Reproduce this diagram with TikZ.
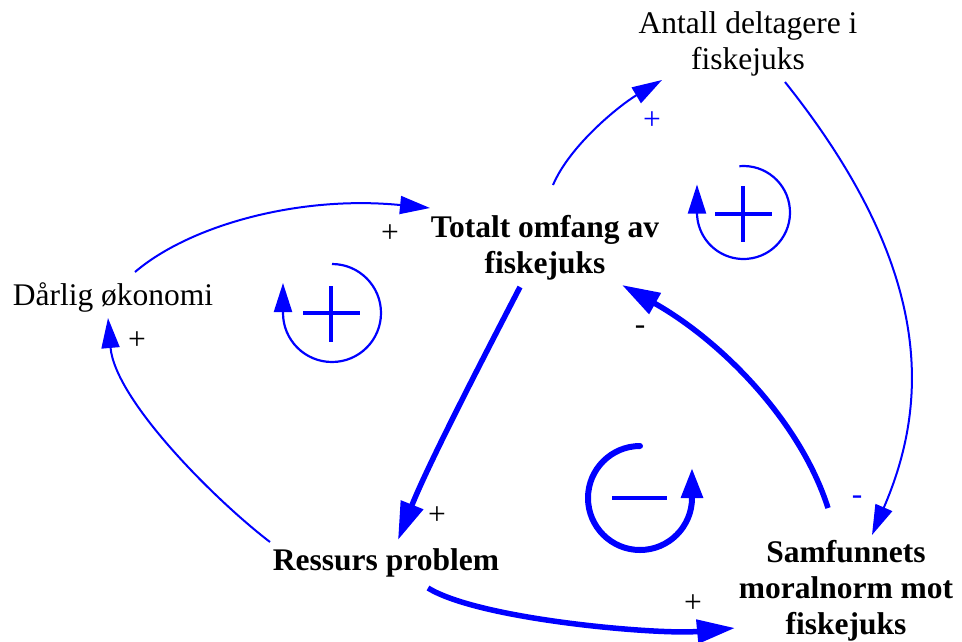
\documentclass[tikz,border=0pt]{standalone}
\usepackage{fontspec}
\setmainfont{Liberation Serif}
\usetikzlibrary{arrows.meta,calc}
\definecolor{lblue}{RGB}{0,0,255}
\begin{document}
\begin{tikzpicture}[x=1pt,y=1pt,
  txt/.style={inner sep=0pt,align=center,font=\fontsize{31.5}{36}\selectfont},
  btxt/.style={txt,font=\fontsize{31.5}{36}\selectfont\bfseries},
  lbl/.style={inner sep=0pt,font=\fontsize{31.5}{36}\selectfont},
  thin/.style={draw=lblue,line width=2pt,-{Triangle[length=30pt,width=18pt]},fill=none},
  thick/.style={draw=lblue,line width=5.5pt,-{Triangle[length=38pt,width=23pt]}},
  loopline/.style={draw=lblue,line width=2.2pt},
  sign/.style={draw=lblue,line width=4.5pt}]
\useasboundingbox (0,0) rectangle (962,-641);
% nodes
\node[txt]  (ant) at (748,-44)  {Antall deltagere i\\fiskejuks};
\node[btxt] (tot) at (545,-248) {Totalt omfang av\\fiskejuks};
\node[txt]  (dar) at (113,-297) {Dårlig økonomi};
\node[btxt] (res) at (386,-563) {Ressurs problem};
\node[btxt] (sam) at (846,-591) {Samfunnets\\moralnorm mot\\fiskejuks};
% connectors
\draw[thin] ($(dar)+(22,25)$) .. controls (190,-225) and (300,-195) .. ($(tot)+(-115,40)$);
\draw[thin] ($(tot)+(8,63)$) .. controls (570,-145) and (620,-105) .. ($(ant)+(-86,-36)$);
\draw[thin] ($(ant)+(37,-38)$) .. controls (935,-270) and (929,-403) .. ($(sam)+(26,56)$);
\draw[thick] ($(sam)+(-18,83)$) .. controls (800,-420) and (720,-340) .. ($(tot)+(77,-37)$);
\draw[thick] ($(tot)+(-25,-39)$) .. controls (490,-345) and (430,-460) .. ($(res)+(12,23)$);
\draw[thick] ($(res)+(42,-25)$) .. controls (480,-620) and (660,-635) .. ($(sam)+(-111,-37)$);
\draw[thin] ($(res)+(-116,21)$) .. controls (215,-500) and (115,-400) .. ($(dar)+(-5,-21)$);
% labels
\node[lbl] (l1) at (390,-234) {+};
\node[lbl,text=lblue] (l2) at (652,-121) {+};
\node[lbl,text=lblue] (l3) at (857,-500) {-};
\node[lbl] (l4) at (640,-330) {-};
\node[lbl] (l5) at (437,-516) {+};
\node[lbl] (l6) at (693,-604) {+};
\node[lbl] (l7) at (137,-341) {+};
% loop symbol 1 (+)
\draw[loopline,-{Triangle[length=29pt,width=18pt]}] (332,-264) arc[start angle=90,end angle=-180,radius=49] -- ++(0,30);
\draw[sign] (303,-313) -- (360,-313);
\draw[sign] (331,-286) -- (331,-342);
% loop symbol 2 (+)
\draw[loopline,-{Triangle[length=29pt,width=18pt]}] ($(743.5,-212.5)+(95:46.5)$) arc[start angle=95,end angle=-180,radius=46.5] -- ++(0,28);
\draw[sign] (715,-214) -- (772,-214);
\draw[sign] (743,-186) -- (743,-242);
% loop symbol 3 (-)
\draw[draw=lblue,line width=6pt,line cap=round,-{Triangle[length=30pt,width=21pt]}] (640,-446) arc[start angle=90,end angle=360,radius=52] -- ++(0,30);
\draw[draw=lblue,line width=3.5pt] (612,-498) -- (667,-498);
\end{tikzpicture}
\end{document}
